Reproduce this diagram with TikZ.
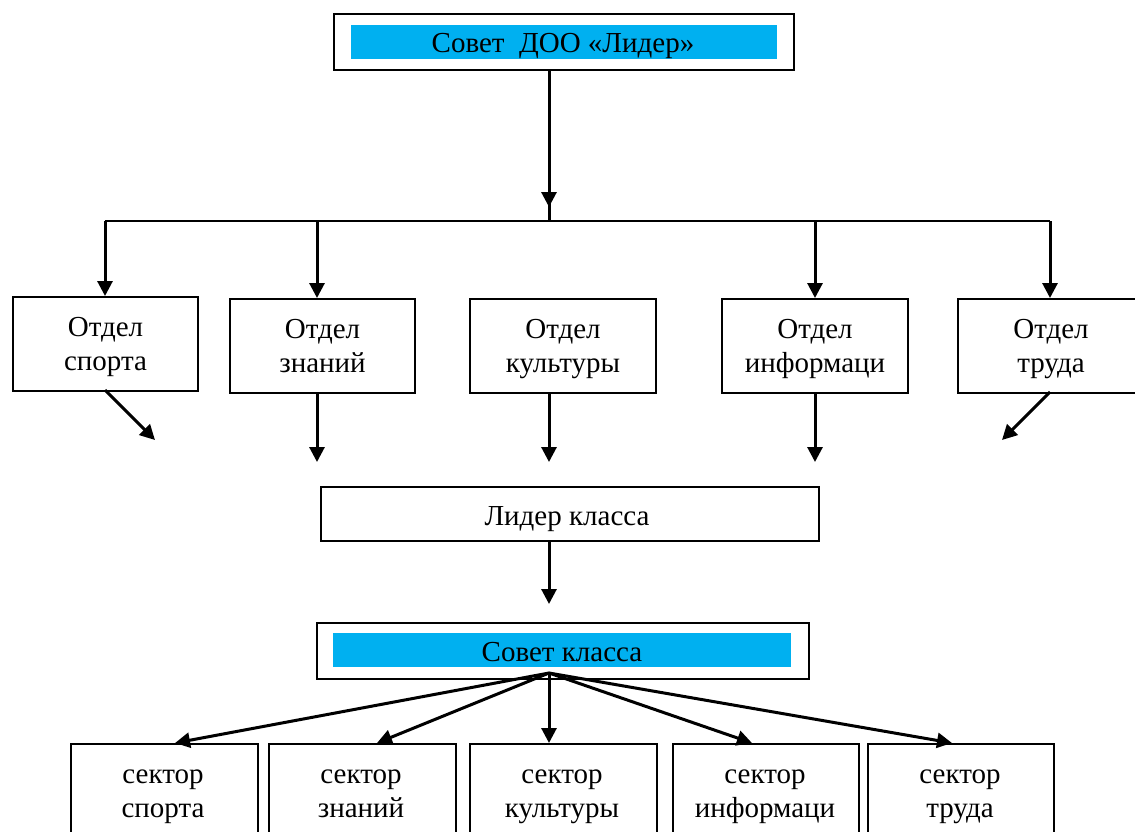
\documentclass[tikz,border=0pt]{standalone}
\usepackage{fontspec}
\setmainfont{Liberation Serif}
\usetikzlibrary{arrows.meta}
\definecolor{cyanfill}{RGB}{0,176,240}
\begin{document}
\begin{tikzpicture}[x=1pt,y=-1pt,
  box/.style={draw,line width=2pt,anchor=north west,inner sep=0pt,font=\fontsize{29}{34}\selectfont,align=center},
  arr/.style={-{Triangle[length=15pt,width=15pt]}},
  ln/.style={line width=3pt},
  hln/.style={line width=2.2pt},
  lbl/.style={font=\fontsize{29}{33}\selectfont,anchor=base,inner sep=0pt}]
\useasboundingbox (0,0) rectangle (1135,831);
% top
\node[box,minimum width=460pt,minimum height=56pt] (top) at (333,13) {};
\fill[cyanfill] (351,25) rectangle (777,59);
\node[lbl] (toptxt) at (563,52) {Совет\ \ ДОО «Лидер»};
\coordinate (topb) at (549,69);
\coordinate (hub) at (549,221);
\coordinate (hubtip) at (549,207);
\draw[ln,arr] (topb) -- (hubtip);
\draw[ln] (549,200) -- (hub);
\coordinate (hl) at (105,221);
\coordinate (hr) at (1050,221);
\draw[hln] (hl) -- (hr);
% row 1
\node[box,minimum width=185pt,minimum height=94pt,text depth=-4pt] (d1) at (12,296) {Отдел\\спорта};
\node[box,minimum width=185pt,minimum height=94pt,text depth=-4pt] (d2) at (229,298) {Отдел\\знаний};
\node[box,minimum width=186pt,minimum height=94pt,text depth=-4pt] (d3) at (469,298) {Отдел\\культуры};
\node[box,minimum width=186pt,minimum height=94pt,text depth=-4pt] (d4) at (721,298) {Отдел\\информаци};
\node[box,minimum width=186pt,minimum height=94pt,text depth=-4pt] (d5) at (957,298) {Отдел\\труда};
\coordinate (t2) at (317,221);
\coordinate (t4) at (815,221);
\draw[ln,arr] (hl) -- (105,296);
\draw[ln,arr] (t2) -- (317,298);
\draw[ln,arr] (t4) -- (815,298);
\draw[ln,arr] (hr) -- (1050,298);
% down arrows
\coordinate (e1) at (155,440);
\coordinate (e2) at (317,462);
\coordinate (e3) at (549,462);
\coordinate (e4) at (815,462);
\coordinate (e5) at (1002,440);
\draw[ln,arr] (105,390) -- (e1);
\draw[ln,arr] (317,392) -- (e2);
\draw[ln,arr] (549,392) -- (e3);
\draw[ln,arr] (815,392) -- (e4);
\draw[ln,arr] (1050,392) -- (e5);
% leader
\node[box,minimum width=498pt,minimum height=54pt] (lead) at (320,486) {};
\node[lbl] (leadtxt) at (567,525) {Лидер класса};
\coordinate (cl) at (549,604);
\draw[ln,arr] (549,540) -- (cl);
% class council
\node[box,minimum width=492pt,minimum height=56pt] (sov) at (316,622) {};
\fill[cyanfill] (333,633) rectangle (791,667);
\node[lbl] (sovtxt) at (562,661) {Совет класса};
\coordinate (fan) at (549,673);
% bottom row
\tikzset{sbox/.style={box,minimum width=187pt,minimum height=110pt}}
\node[sbox] (s1) at (70,743) {};
\node[sbox] (s2) at (268,743) {};
\node[sbox] (s3) at (469,743) {};
\node[sbox,minimum width=186pt] (s4) at (672,743) {};
\node[sbox,minimum width=186pt] (s5) at (867,743) {};
\foreach \n/\x/\w in {s1/163/спорта,s2/361/знаний,s3/562/культуры,s4/765/информаци,s5/960/труда}{
  \node[lbl] (\n a) at (\x,783) {сектор};
  \node[lbl] (\n b) at (\x,817) {\w};
}
\draw[ln,arr] (fan) -- (175,743);
\draw[ln,arr] (fan) -- (377,743);
\draw[ln,arr] (fan) -- (549,743);
\draw[ln,arr] (fan) -- (752,743);
\draw[ln,arr] (fan) -- (952,743);
\end{tikzpicture}
\end{document}
